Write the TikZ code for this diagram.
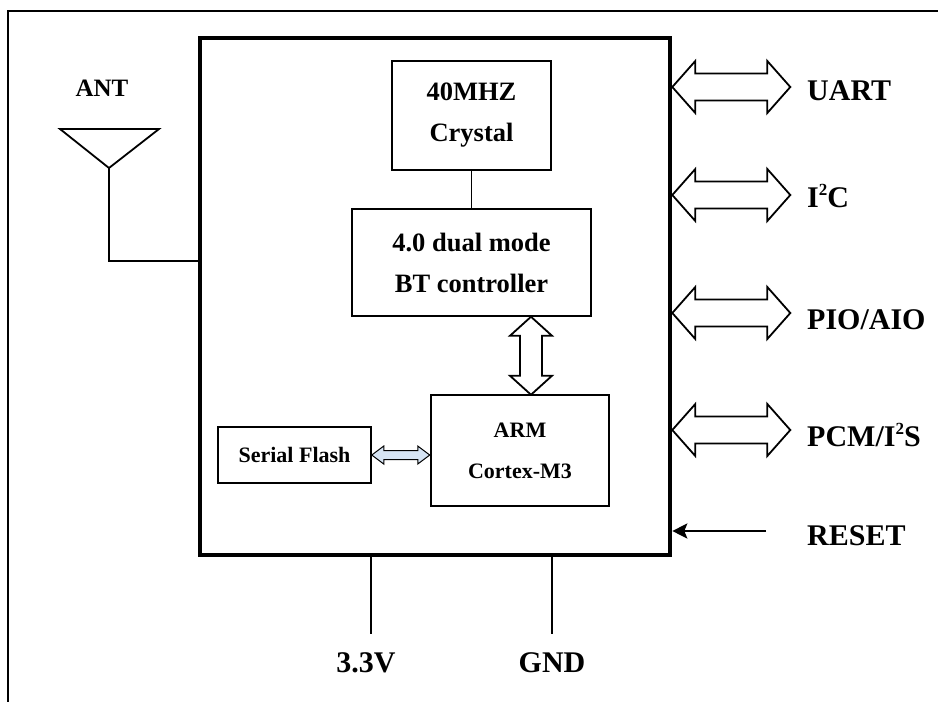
\documentclass[tikz,border=0pt]{standalone}
\usepackage{fontspec}
\setmainfont{Liberation Serif}
\usepackage{xcolor}
\usetikzlibrary{arrows.meta,positioning,calc}
\definecolor{flashblue}{RGB}{214,228,244}
\newcommand\sqr{\raisebox{.42em}{\fontsize{17}{17}\selectfont 2}}

\begin{document}
\begin{tikzpicture}[
  x=1pt, y=-1pt,
  font=\bfseries,
  wire/.style={line width=1.8pt, black},
  block/.style={rectangle, draw, line width=1.5pt, inner sep=0pt, align=center,
                font=\fontsize{26.5}{41}\selectfont\bfseries},
  small/.style={font=\fontsize{22}{41}\selectfont\bfseries},
  chip/.style={rectangle, draw, line width=4.6pt, inner sep=0pt},
  sig/.style={font=\fontsize{30}{36}\selectfont\bfseries, inner sep=0pt,
              text height=19.9pt, text depth=0pt, anchor=west},
  bus/.style={line width=1.8pt, line join=miter, fill=white},
  arr/.style={-{Stealth[length=15pt,width=15pt,inset=3pt]}, line width=2.2pt},
]
\useasboundingbox (0,0) rectangle (938,702);
\draw[wire] (938,11) -- (8,11) -- (8,702);

% module and its blocks
\node[chip, minimum width=470pt, minimum height=517pt] (chip) at (435,296.5) {};
\node[block, minimum width=159pt, minimum height=109pt] (crystal) at (471.5,115.5) {40MHZ\\Crystal};
\node[block, minimum width=239pt, minimum height=107pt] (bt) at (471.5,262.5) {4.0 dual mode\\BT controller};
\node[block, small, minimum width=178pt, minimum height=111pt] (arm) at (520,450.5) {ARM\\Cortex-M3};
\node[block, small, minimum width=153pt, minimum height=56pt] (flash) at (294.5,455) {Serial Flash};

\draw[wire, line width=1.5pt] (crystal) -- (bt);
\draw[bus] (bt.south -| 531,0) -- ++(21,19) -- ++(-10,0) -- ++(0,40) -- ++(10,0)
  -- ++(-21,19) -- ++(-21,-19) -- ++(10,0) -- ++(0,-40) -- ++(-10,0) -- cycle;
\draw[bus, fill=flashblue, line width=1pt] (flash.east) -- ++(12,-9) -- ++(0,4.5)
  -- ++(34,0) -- ++(0,-4.5) -- ++(12,9) -- ++(-12,9) -- ++(0,-4.5) -- ++(-34,0)
  -- ++(0,4.5) -- cycle;

% antenna
\node[font=\fontsize{25}{30}\selectfont\bfseries] (ant) at (102,88) {ANT};
\coordinate (feed) at (109,168);
\draw[wire] (feed) -- ++(-49,-39) -- ++(99,0) -- cycle;
\draw[wire] (feed) |- (chip.west |- 0,261);

% interfaces
\foreach \ay/\ly/\name/\txt in {87/91/uart/UART, 195/198/iic/{I\sqr C},
    313/320/pio/{PIO/AIO}, 430/437/pcm/{PCM/I\sqr S}} {
  \node[sig] (\name) at (807,\ly) {\txt};
  \draw[bus] (chip.east |- 0,\ay) -- ++(23,-26) -- ++(0,12.5) -- ++(72,0) -- ++(0,-12.5)
    -- ++(23,26) -- ++(-23,26) -- ++(0,-12.5) -- ++(-72,0) -- ++(0,12.5) -- cycle;
}
\node[sig] (reset) at (807,536) {RESET};
\coordinate (rst) at (766,531);
\draw[arr] (rst) -- (chip.east |- rst);

% supply
\node[sig, anchor=center] (vcc) at (366,663) {3.3V};
\node[sig, anchor=center] (gnd) at (552,663) {GND};
\draw[wire, line width=2.6pt] (chip.south -| 371,0) -- ++(0,77);
\draw[wire, line width=2.6pt] (chip.south -| gnd) -- ++(0,77);
\end{tikzpicture}
\end{document}
